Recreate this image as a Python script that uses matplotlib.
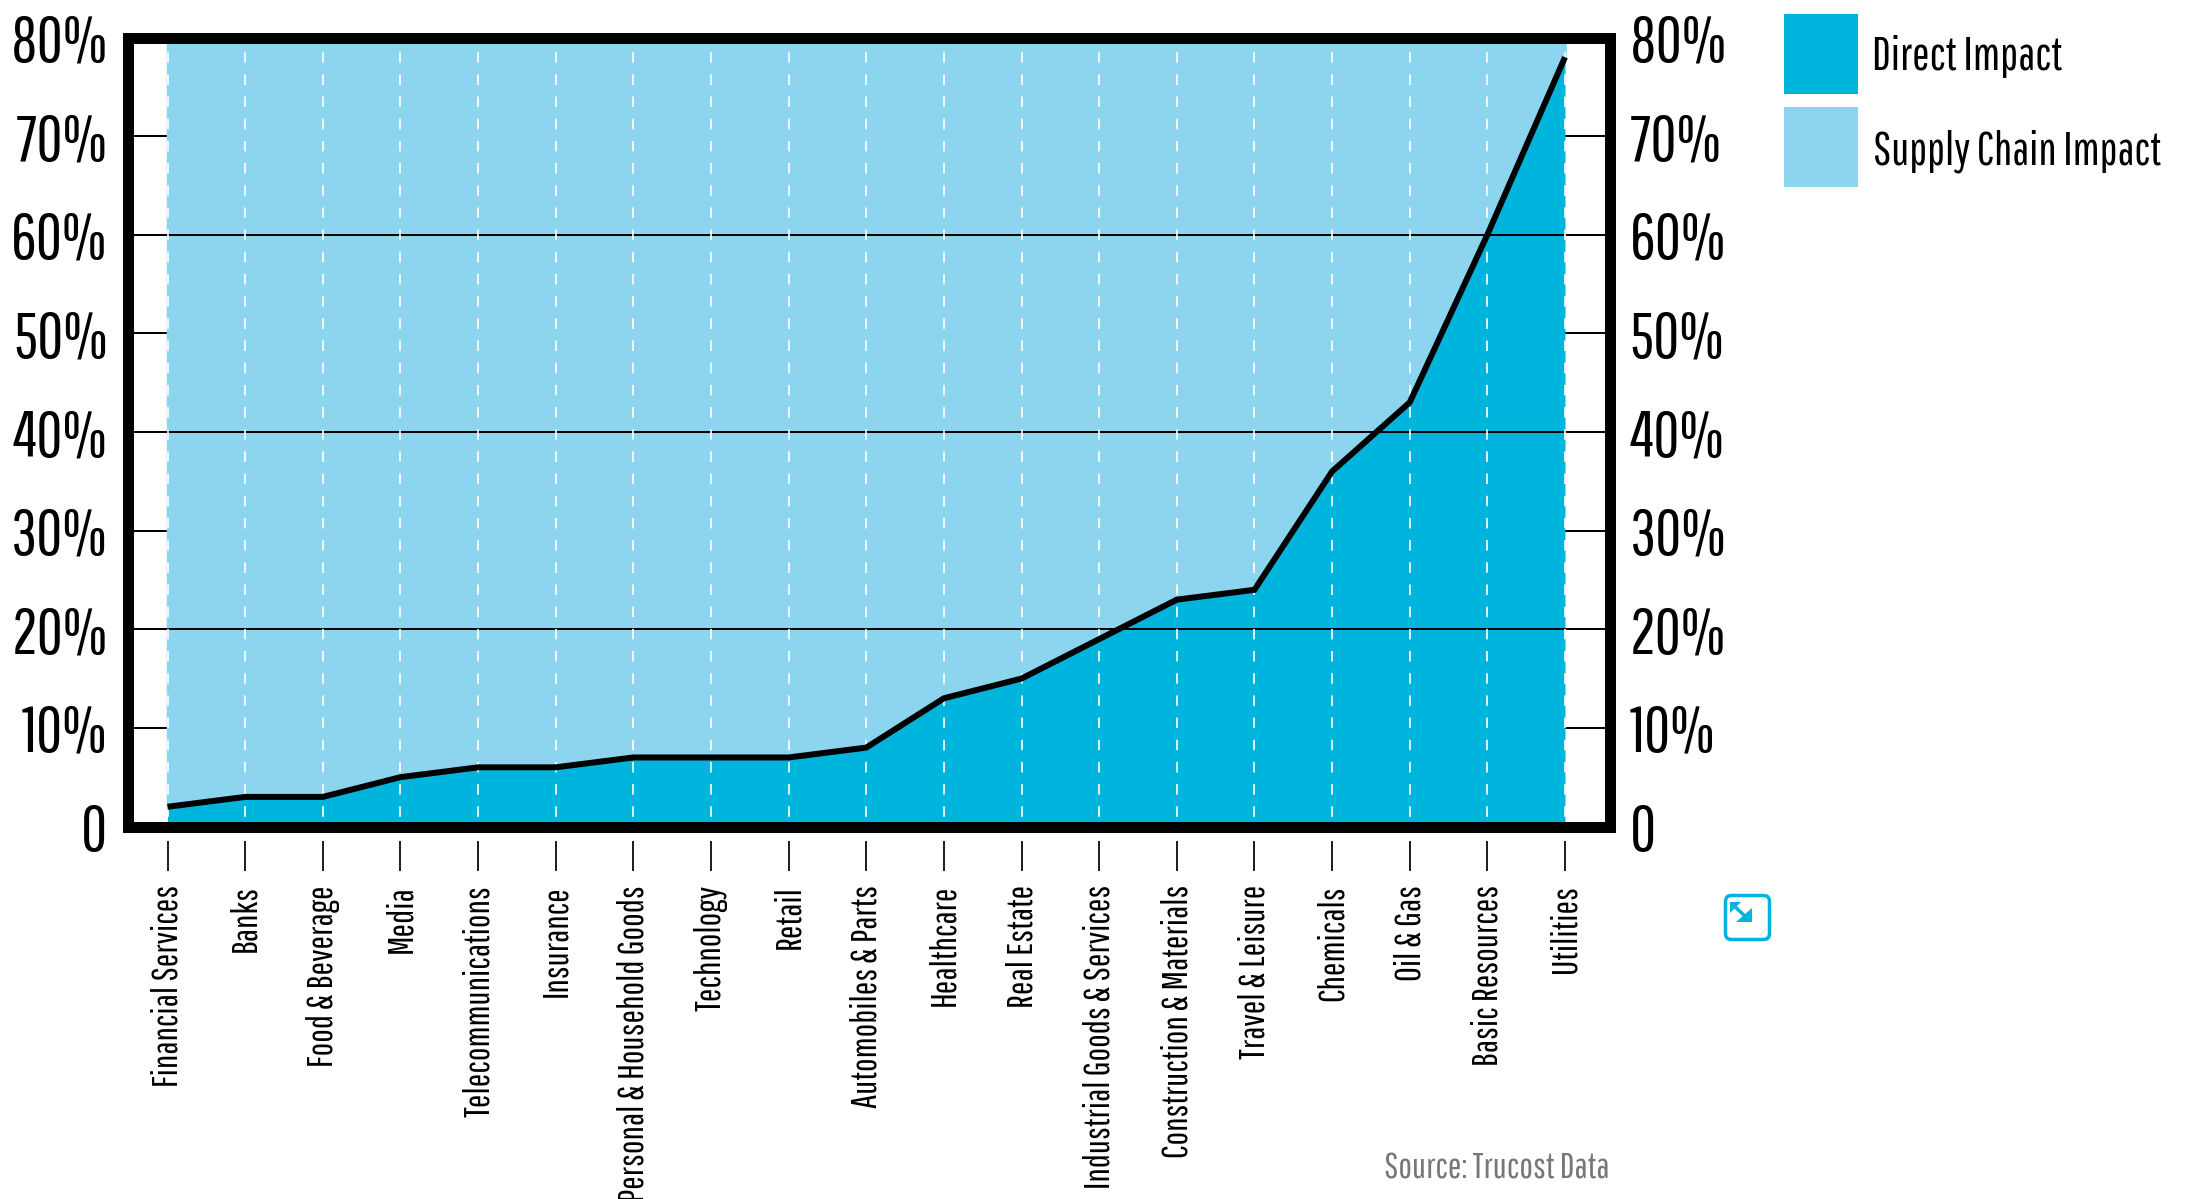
import matplotlib
matplotlib.use("Agg")
import matplotlib.pyplot as plt
from matplotlib.patches import FancyBboxPatch, Rectangle, Polygon
from matplotlib.lines import Line2D

W, H = 2186, 1199
DPI = 100
PX = 72 / DPI

sectors = ["Financial Services", "Banks", "Food & Beverage", "Media", "Telecommunications",
           "Insurance", "Personal & Household Goods", "Technology", "Retail",
           "Automobiles & Parts", "Healthcare", "Real Estate", "Industrial Goods & Services",
           "Construction & Materials", "Travel & Leisure", "Chemicals", "Oil & Gas",
           "Basic Resources", "Utilities"]
direct_impact = [2, 3, 3, 5, 6, 6, 7, 7, 7, 8, 13, 15, 19, 23, 24, 36, 43, 60, 78]
y_ticks = [0, 10, 20, 30, 40, 50, 60, 70, 80]
y_labels = ["0", "10%", "20%", "30%", "40%", "50%", "60%", "70%", "80%"]
positions = list(range(len(sectors)))

DARK = "#00b5dd"
LIGHT = "#8dd5ee"

plt.rcParams["font.family"] = ["Pathway Gothic One", "Liberation Sans", "DejaVu Sans"]
plt.rcParams["lines.scale_dashes"] = False

fig = plt.figure(figsize=(W / DPI, H / DPI), dpi=DPI)

# frame centre lines, in pixels from the top left
left, right, top, bottom = 127.5, 1609.5, 37.5, 826.5
ax = fig.add_axes([left / W, 1 - bottom / H, (right - left) / W, (bottom - top) / H])

# pixel anchors for the two scales
x_step = (1565 - 167.5) / 18
y_step = (829 - 37) / 80
ax.set_xlim((left - 167.5) / x_step, (right - 167.5) / x_step)
ax.set_ylim((829 - bottom) / y_step, (829 - top) / y_step)

# odd gridlines only show in the white margins, the fill hides them
for v in y_ticks:
    ax.axhline(v, color="black", lw=2 * PX, zorder=3 if v % 20 == 0 else 1)

y_floor, y_ceil = ax.get_ylim()
ax.fill_between(positions, direct_impact, y_ceil, color=LIGHT, lw=2.5 * PX, zorder=2)
ax.fill_between(positions, y_floor, direct_impact, color=DARK, lw=0, zorder=2)

for p in positions:
    ax.plot([p, p], [y_ceil, y_floor], color="white", alpha=0.85, lw=2 * PX, zorder=4,
            linestyle=(8 * PX, (10.5 * PX, 11.68 * PX)))

ax.plot(positions, direct_impact, color="black", lw=6 * PX, zorder=5,
        solid_capstyle="butt", solid_joinstyle="miter")

# tick marks float below the frame
xaxis_tf = ax.get_xaxis_transform()
ax_h = bottom - top
for p in positions:
    ax.plot([p, p], [-(842 - bottom) / ax_h, -(870 - bottom) / ax_h], color="#222222",
            lw=2 * PX, transform=xaxis_tf, clip_on=False)

for s in ax.spines.values():
    s.set_linewidth(11 * PX)
    s.set_color("black")
    s.set_zorder(6)
    s.set_capstyle("projecting")

ax.set_xticks(positions, sectors, rotation=90, fontsize=26)
ax.tick_params(axis="x", length=0, pad=(885 - bottom) * PX)
ax.set_yticks(y_ticks, y_labels)
ax.tick_params(axis="y", length=0, labelsize=46, labelleft=True, labelright=True, pad=20 * PX)

# everything outside the axes is placed in pixels
over = fig.add_axes([0, 0, 1, 1], facecolor="none")
over.set_xlim(0, W)
over.set_ylim(H, 0)
over.axis("off")

over.add_patch(Rectangle((1784, 14), 74, 80, color=DARK, lw=0))
over.add_patch(Rectangle((1784, 107), 74, 80, color=LIGHT, lw=0))
over.text(1872, 56, "Direct Impact", fontsize=33.5, va="center", color="black")
over.text(1873, 151, "Supply Chain Impact", fontsize=33, va="center", color="black")
over.text(1609, 1168, "Source: Trucost Data", fontsize=26, ha="right", va="center", color="#777777")

# expand icon
over.add_patch(FancyBboxPatch((1725.5, 895.5), 44, 44, boxstyle="round,pad=0,rounding_size=6",
                              fc="white", ec=DARK, lw=3.5 * PX))
over.add_line(Line2D([1733, 1746], [905, 917], color=DARK, lw=3.5 * PX))
over.add_patch(Polygon([[1730, 902], [1741, 902], [1730, 913]], color=DARK, lw=0))
over.add_patch(Polygon([[1752, 908], [1752, 922], [1736, 922]], color=DARK, lw=0))

fig.savefig("out.png", dpi=DPI)
